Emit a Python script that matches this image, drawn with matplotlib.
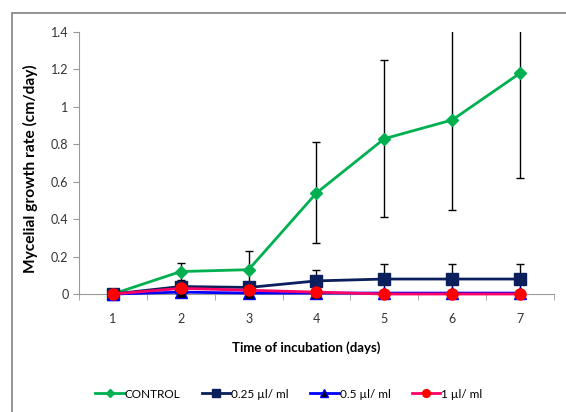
import matplotlib
matplotlib.use("Agg")
import matplotlib.pyplot as plt
from matplotlib.patches import Rectangle

plt.rcParams['font.family'] = ['Lato', 'DejaVu Sans']

days = [1, 2, 3, 4, 5, 6, 7]
control = [0.0, 0.12, 0.13, 0.54, 0.83, 0.93, 1.18]
control_err = [0.0, 0.045, 0.10, 0.27, 0.42, 0.48, 0.56]
c025 = [0.0, 0.04, 0.035, 0.07, 0.08, 0.08, 0.08]
c025_err = [0.0, 0.01, 0.01, 0.06, 0.08, 0.08, 0.08]
c05 = [0.0, 0.01, 0.005, 0.005, 0.005, 0.005, 0.005]
c1 = [0.0, 0.03, 0.02, 0.01, 0.0, 0.0, 0.0]
labels = ["CONTROL", "0.25 µl/ ml", "0.5 µl/ ml", "1 µl/ ml"]
yticks = [0, 0.2, 0.4, 0.6, 0.8, 1, 1.2, 1.4]
ytick_labels = ["0", "0.2", "0.4", "0.6", "0.8", "1", "1.2", "1.4"]

W, H = 566, 412
L, R, T, B = 79, 554, 32, 294
fig = plt.figure(figsize=(W/100, H/100), dpi=100)
ax = fig.add_axes([L/W, 1-B/H, (R-L)/W, (B-T)/H])

ax.errorbar(days, control, yerr=control_err, fmt='none',
            ecolor='black', elinewidth=1, capsize=3, zorder=2)
ax.errorbar(days, c025, yerr=c025_err, fmt='none',
            ecolor='black', elinewidth=1, capsize=3, zorder=2)
h1, = ax.plot(days, control, color='#00B050', lw=2, marker='D', ms=6,
              mfc='#00B050', mec='#00B050', label=labels[0], zorder=3, clip_on=False)
h2, = ax.plot(days, c025, color='#0A1F5C', lw=2, marker='s', ms=8,
              mfc='#0A1F5C', mec='#0A1F5C', label=labels[1], zorder=3, clip_on=False)
h3, = ax.plot(days, c05, color='#0000FF', lw=2, marker='^', ms=8,
              mfc='black', mec='#0000FF', label=labels[2], zorder=4, clip_on=False)
h4, = ax.plot(days, c1, color='#FF0066', lw=2, marker='o', ms=8,
              mfc='#FF0000', mec='#FF0000', label=labels[3], zorder=5, clip_on=False)

ax.set_xlim(0.5, 7.5)
ax.set_ylim(0, 1.4)
ax.set_yticks(yticks)
ax.set_yticklabels(ytick_labels)
ax.set_xticks(days)
ax.set_xticks([d + 0.5 for d in [0] + days], minor=True)
ax.tick_params(axis='x', which='major', length=0, pad=13.5, labelsize=9, colors='#333333')
ax.tick_params(axis='x', which='minor', length=4, color='#999999', direction='out')
ax.tick_params(axis='y', length=4, color='#999999', labelsize=9, colors='#333333')
for s in ['top', 'right']:
    ax.spines[s].set_visible(False)
ax.spines['left'].set_color('#999999')
ax.spines['bottom'].set_color('#999999')

ax.set_ylabel("Mycelial growth rate (cm/day)", fontsize=11.2, fontweight='bold')
ax.yaxis.set_label_coords((38-L)/(R-L), 0.48)
ax.set_xlabel("Time of incubation (days)", fontsize=9.5, fontweight='bold')
ax.xaxis.set_label_coords((306-L)/(R-L), -(348-B)/(B-T))
ax.xaxis.label.set_va('center')

leg = fig.legend(handles=[h1, h2, h3, h4], loc='center', bbox_to_anchor=(289/W, 1-394/H),
                 ncol=4, frameon=False, fontsize=8.5, handlelength=2.4, handletextpad=0.1,
                 columnspacing=1.8, markerscale=0.7)

fig.patches.append(Rectangle((12/W, -0.02), 1.0, 1-13/H+0.02, transform=fig.transFigure,
                             fill=False, edgecolor='#808080', lw=1.2))

fig.savefig("out.png", dpi=100)
